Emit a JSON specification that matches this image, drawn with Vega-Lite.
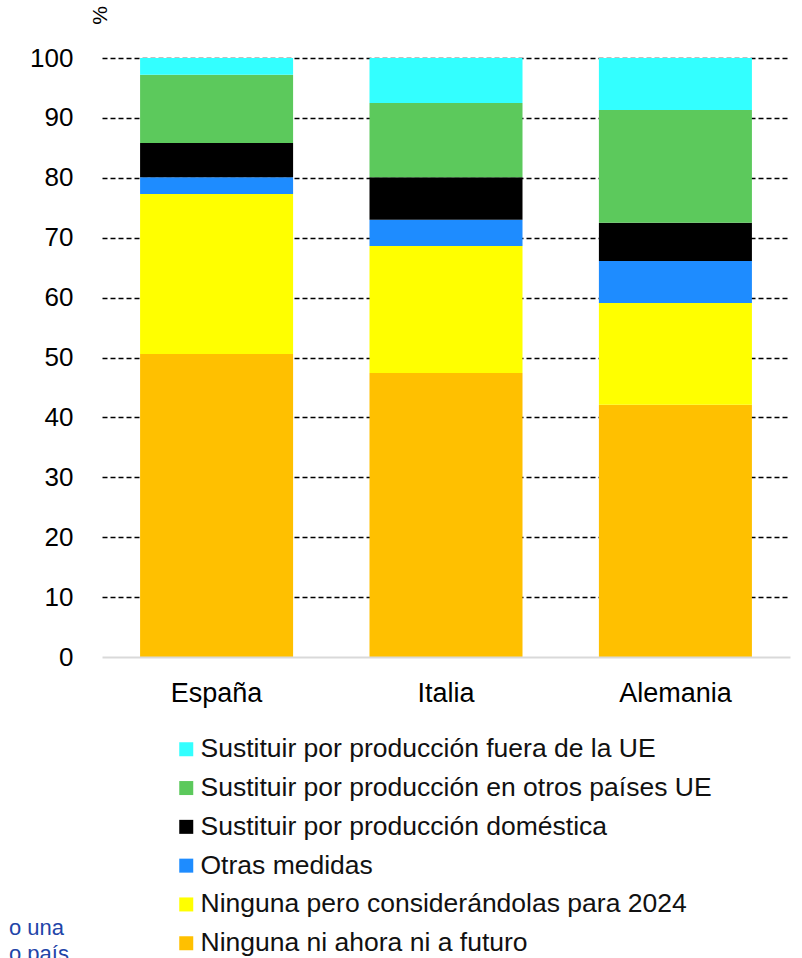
{
  "$schema": "https://vega.github.io/schema/vega-lite/v6.json",
  "width": 688,
  "height": 599,
  "autosize": {"type": "none"},
  "padding": {"left": 102, "top": 58, "right": 12, "bottom": 301},
  "background": "white",
  "config": {
    "font": "Liberation Sans",
    "view": {"stroke": null}
  },
  "title": {
    "text": ["o una", "o país"],
    "orient": "top",
    "anchor": "start",
    "frame": "group",
    "align": "left",
    "baseline": "top",
    "dx": -93,
    "dy": 960,
    "offset": 0,
    "fontSize": 22,
    "fontWeight": "normal",
    "color": "#1F45A8",
    "lineHeight": 26
  },
  "data": {
    "values": [
      {"pais": "España", "medida": "Ninguna ni ahora ni a futuro", "valor": 50.6},
      {"pais": "España", "medida": "Ninguna pero considerándolas para 2024", "valor": 26.7},
      {"pais": "España", "medida": "Otras medidas", "valor": 2.8},
      {"pais": "España", "medida": "Sustituir por producción doméstica", "valor": 5.7},
      {"pais": "España", "medida": "Sustituir por producción en otros países UE", "valor": 11.4},
      {"pais": "España", "medida": "Sustituir por producción fuera de la UE", "valor": 2.8},
      {"pais": "Italia", "medida": "Ninguna ni ahora ni a futuro", "valor": 47.4},
      {"pais": "Italia", "medida": "Ninguna pero considerándolas para 2024", "valor": 21.2},
      {"pais": "Italia", "medida": "Otras medidas", "valor": 4.4},
      {"pais": "Italia", "medida": "Sustituir por producción doméstica", "valor": 7.1},
      {"pais": "Italia", "medida": "Sustituir por producción en otros países UE", "valor": 12.4},
      {"pais": "Italia", "medida": "Sustituir por producción fuera de la UE", "valor": 7.5},
      {"pais": "Alemania", "medida": "Ninguna ni ahora ni a futuro", "valor": 42.1},
      {"pais": "Alemania", "medida": "Ninguna pero considerándolas para 2024", "valor": 17.0},
      {"pais": "Alemania", "medida": "Otras medidas", "valor": 7.0},
      {"pais": "Alemania", "medida": "Sustituir por producción doméstica", "valor": 6.4},
      {"pais": "Alemania", "medida": "Sustituir por producción en otros países UE", "valor": 18.8},
      {"pais": "Alemania", "medida": "Sustituir por producción fuera de la UE", "valor": 8.7}
    ]
  },
  "mark": {"type": "bar"},
  "encoding": {
    "x": {
      "field": "pais",
      "type": "nominal",
      "sort": ["España", "Italia", "Alemania"],
      "scale": {"paddingInner": 0.333, "paddingOuter": 0.166},
      "axis": {
        "title": null,
        "labelAngle": 0,
        "labelFontSize": 27,
        "labelColor": "black",
        "labelPadding": 23,
        "ticks": false,
        "domainColor": "#d9d9d9",
        "domainWidth": 2,
        "zindex": 1
      }
    },
    "y": {
      "field": "valor",
      "type": "quantitative",
      "stack": "zero",
      "scale": {"domain": [0, 100], "nice": false},
      "axis": {
        "title": "%",
        "titleFontSize": 21,
        "titleFontWeight": "normal",
        "titleColor": "black",
        "titleX": -2,
        "titleY": -43,
        "titleAngle": -90,
        "titleAlign": "center",
        "titleBaseline": "middle",
        "values": [0, 10, 20, 30, 40, 50, 60, 70, 80, 90, 100],
        "labelFontSize": 26,
        "labelColor": "black",
        "labelPadding": 29,
        "ticks": false,
        "domain": false,
        "grid": true,
        "gridColor": {"condition": {"test": "datum.value === 0", "value": "transparent"}, "value": "black"},
        "gridDash": [5, 3],
        "gridWidth": 1.3,
        "gridOpacity": 1
      }
    },
    "color": {
      "field": "medida",
      "type": "nominal",
      "scale": {
        "domain": [
          "Sustituir por producción fuera de la UE",
          "Sustituir por producción en otros países UE",
          "Sustituir por producción doméstica",
          "Otras medidas",
          "Ninguna pero considerándolas para 2024",
          "Ninguna ni ahora ni a futuro"
        ],
        "range": ["#33FFFF", "#5CC95C", "#000000", "#1E8CFF", "#FFFF00", "#FFC000"]
      },
      "legend": {
        "title": null,
        "orient": "none",
        "legendX": 71,
        "legendY": 678,
        "padding": 0,
        "direction": "vertical",
        "symbolType": "square",
        "symbolSize": 196,
        "symbolStrokeWidth": 0,
        "symbolOpacity": 1,
        "labelFontSize": 26.5,
        "labelColor": "#111111",
        "labelOffset": 1,
        "labelLimit": 700,
        "rowPadding": 11.8
      }
    },
    "order": {"field": "medida", "sort": "ascending"}
  }
}
